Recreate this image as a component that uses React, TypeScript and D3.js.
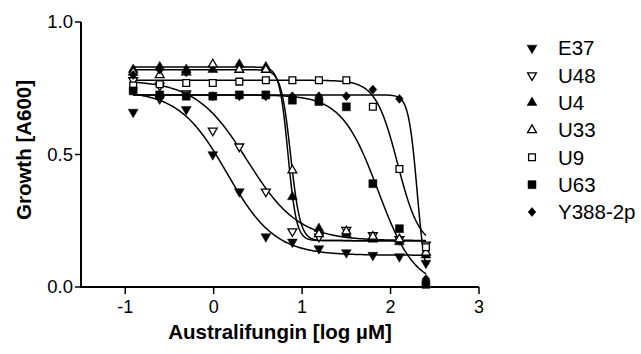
import React from "react";
import * as d3 from "d3";

// log10 of the 2-fold dilution series (µM)
const doses = [-0.91, -0.61, -0.31, -0.01, 0.29, 0.59, 0.89, 1.19, 1.5, 1.8, 2.1, 2.4];

const strains = ["E37", "U48", "U4", "U33", "U9", "U63", "Y388-2p"];

const e37 = [0.66, 0.71, 0.67, 0.5, 0.36, 0.19, 0.17, 0.145, 0.13, 0.12, 0.115, 0.09];
const u48 = [0.78, 0.76, 0.73, 0.59, 0.53, 0.36, 0.21, 0.19, 0.215, 0.195, 0.18, 0.16];
const u4 = [0.82, 0.83, 0.82, 0.82, 0.84, 0.83, 0.34, 0.22, 0.2, 0.18, 0.17, 0.12];
const u33 = [0.81, 0.8, 0.81, 0.84, 0.82, 0.82, 0.44, 0.2, 0.21, 0.19, 0.18, 0.13];
const u9 = [0.76, 0.765, 0.77, 0.77, 0.775, 0.78, 0.78, 0.78, 0.78, 0.68, 0.445, 0.15];
const u63 = [0.74, 0.725, 0.72, 0.72, 0.725, 0.725, 0.705, 0.7, 0.68, 0.39, 0.22, 0.01];
const y388 = [0.8, 0.82, 0.81, 0.72, 0.72, 0.72, 0.72, 0.72, 0.72, 0.745, 0.71, 0.03];

// fitted sigmoid parameters per strain: top, bottom, logEC50, hill slope
const fitTop = [0.74, 0.78, 0.83, 0.82, 0.78, 0.725, 0.725];
const fitBottom = [0.12, 0.175, 0.175, 0.175, 0.15, 0.0, 0.0];
const fitEC50 = [0.15, 0.38, 0.84, 0.87, 2.08, 1.86, 2.3];
const fitHill = [1.6, 1.5, 9, 8, 3.5, 2.1, 9];

const xTicks = [-1, 0, 1, 2, 3];
const yTicks = [0, 0.5, 1.0];

const values = [e37, u48, u4, u33, u9, u63, y388];
// marker: shape, filled
const markers: [string, boolean][] = [
  ["down", true],
  ["down", false],
  ["up", true],
  ["up", false],
  ["square", false],
  ["square", true],
  ["diamond", true],
];

const W = 641,
  H = 354;
const left = 81,
  right = 479,
  top = 22,
  bottom = 287;
const font = "'Liberation Sans', Arial, sans-serif";

function Marker({ kind, filled, x, y }: { kind: string; filled: boolean; x: number; y: number }) {
  const fill = filled ? "#000" : "#fff";
  const sw = filled ? 0.5 : 1.3;
  if (kind === "up" || kind === "down") {
    const p = d3.symbol().type(d3.symbolTriangle).size(filled ? 42 : 34)();
    return (
      <path
        d={p || ""}
        transform={`translate(${x},${y}) rotate(${kind === "down" ? 180 : 0})`}
        fill={fill}
        stroke="#000"
        strokeWidth={sw}
      />
    );
  }
  if (kind === "square") {
    const p = d3.symbol().type(d3.symbolSquare).size(filled ? 64 : 46)();
    return <path d={p || ""} transform={`translate(${x},${y})`} fill={fill} stroke="#000" strokeWidth={sw} />;
  }
  const p = d3.symbol().type(d3.symbolSquare).size(30)();
  return (
    <path d={p || ""} transform={`translate(${x},${y}) scale(1,1.15) rotate(45)`} fill={fill} stroke="#000" strokeWidth={sw} />
  );
}

export default function App() {
  const x = d3.scaleLinear().domain([-1.5, 3]).range([left, right]);
  const y = d3.scaleLinear().domain([0, 1]).range([bottom, top]);

  const grid = d3.range(0, 301).map((i) => doses[0] + ((doses[doses.length - 1] - doses[0]) * i) / 300);
  const line = d3
    .line<number[]>()
    .x((d) => x(d[0]))
    .y((d) => y(d[1]));

  const curves = strains.map((_, i) =>
    grid.map((v) => [
      v,
      fitBottom[i] + (fitTop[i] - fitBottom[i]) / (1 + Math.pow(10, (v - fitEC50[i]) * fitHill[i])),
    ])
  );

  const legendY = d3.scalePoint().domain(strains).range([48, 212]);

  return (
    <svg width={W} height={H} style={{ position: "absolute", left: 0, top: 0, background: "#fff" }}>
      {/* curves */}
      {curves.map((c, i) => (
        <path key={"c" + i} d={line(c) || ""} fill="none" stroke="#000" strokeWidth={1.5} />
      ))}
      {/* points */}
      {values.map((vals, i) =>
        vals.map((v, j) => (
          <Marker key={`m${i}-${j}`} kind={markers[i][0]} filled={markers[i][1]} x={x(doses[j])} y={y(v)} />
        ))
      )}
      {/* axes */}
      <line x1={left} x2={left} y1={top} y2={bottom + 1} stroke="#000" strokeWidth={2} />
      <line x1={left - 1} x2={right} y1={bottom} y2={bottom} stroke="#000" strokeWidth={2} />
      {yTicks.map((t) => (
        <g key={"y" + t}>
          <line x1={left - 6} x2={left} y1={y(t)} y2={y(t)} stroke="#000" strokeWidth={1.5} />
          <text x={left - 8} y={y(t)} dy="0.35em" textAnchor="end" fontFamily={font} fontSize={18.5}>
            {d3.format(".1f")(t)}
          </text>
        </g>
      ))}
      {xTicks.map((t) => (
        <g key={"x" + t}>
          <line x1={x(t)} x2={x(t)} y1={bottom} y2={bottom + 7} stroke="#000" strokeWidth={1.5} />
          <text x={x(t)} y={bottom + 26} textAnchor="middle" fontFamily={font} fontSize={18}>
            {t}
          </text>
        </g>
      ))}
      <text
        x={(left + right) / 2}
        y={339}
        textAnchor="middle"
        fontFamily={font}
        fontWeight="bold"
        fontSize={20.5}
      >
        Australifungin [log µM]
      </text>
      <text
        transform={`translate(31,150) rotate(-90)`}
        textAnchor="middle"
        fontFamily={font}
        fontWeight="bold"
        fontSize={20.5}
      >
        Growth [A600]
      </text>
      {/* legend */}
      {strains.map((s, i) => (
        <g key={"l" + s}>
          <Marker kind={markers[i][0]} filled={markers[i][1]} x={532} y={legendY(s) || 0} />
          <text x={558} y={legendY(s) || 0} dy="0.35em" fontFamily={font} fontSize={20.5}>
            {s}
          </text>
        </g>
      ))}
    </svg>
  );
}
